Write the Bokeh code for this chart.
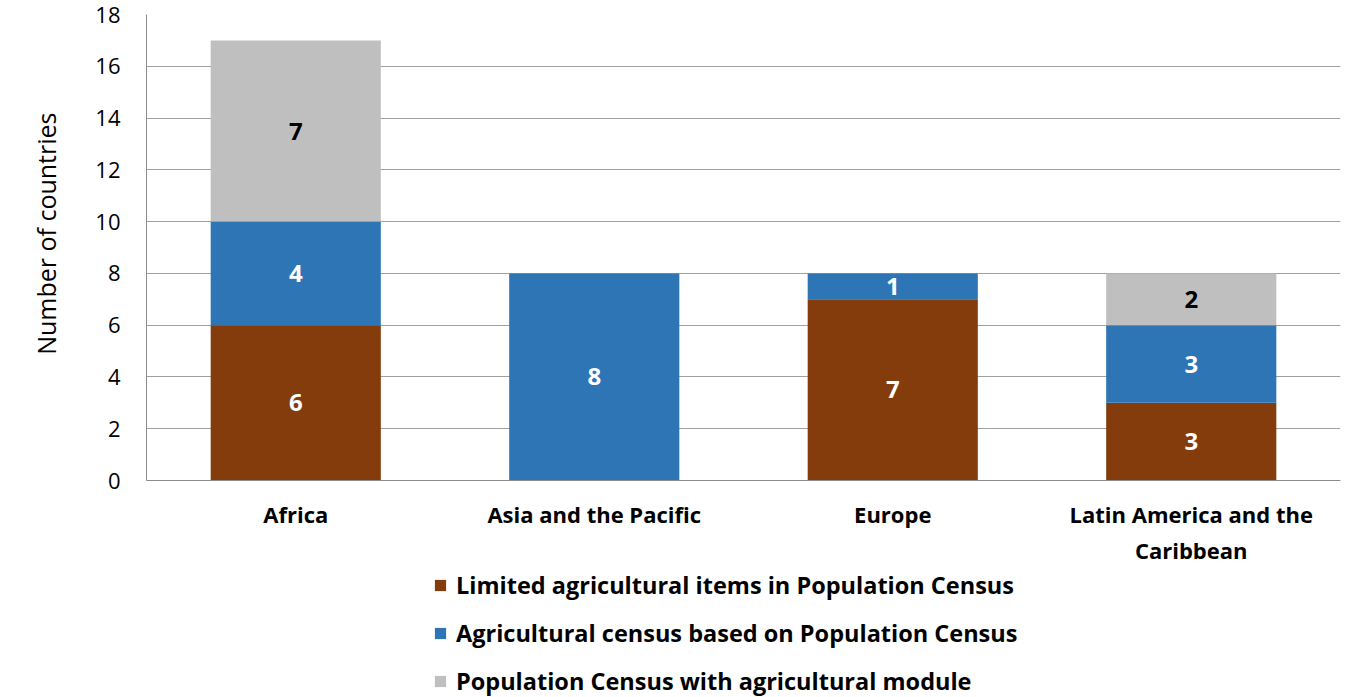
from bokeh.plotting import figure
from bokeh.models import ColumnDataSource, FactorRange, Range1d, Legend, LegendItem, FixedTicker, Title
from bokeh.core.properties import value
from bokeh.embed import file_html
from bokeh.resources import INLINE

regions = ["Africa", "Asia and the Pacific", "Europe", "Latin America and the\nCaribbean"]
limited = [6, 0, 7, 3]
agricultural = [4, 8, 1, 3]
module = [7, 0, 0, 2]
series_names = [
    "Limited agricultural items in Population Census",
    "Agricultural census based on Population Census",
    "Population Census with agricultural module",
]
series_keys = ["limited", "agricultural", "module"]
colors = ["#843C0C", "#2E75B6", "#BFBFBF"]
label_colors = ["white", "white", "black"]
y_ticks = [0, 2, 4, 6, 8, 10, 12, 14, 16, 18]
y_max = 18
y_title = "Number of countries"

FONT = "Open Sans"

# frame extends below the value axis to make room for the legend
PX_PER_UNIT = 466 / y_max
FRAME_H = 697 - 14
y_start = y_max - FRAME_H / PX_PER_UNIT

src = ColumnDataSource(dict(regions=regions, limited=limited, agricultural=agricultural, module=module))

p = figure(
    x_range=FactorRange(*regions, range_padding=0),
    y_range=Range1d(y_start, y_max),
    width=1342, height=697,
    output_backend="svg", toolbar_location=None,
    min_border_left=145, min_border_top=14, min_border_right=2, min_border_bottom=0,
)

renderers = p.vbar_stack(series_keys, x="regions", width=0.57, color=colors, line_color=None, source=src)

# data labels
lx, ly, lt, lc = [], [], [], []
vals = [limited, agricultural, module]
for i, r in enumerate(regions):
    base = 0
    for s, v in enumerate(vals):
        if v[i] > 0:
            lx.append(r)
            ly.append(base + v[i] / 2)
            lt.append(str(v[i]))
            lc.append(label_colors[s])
        base += v[i]
lsrc = ColumnDataSource(dict(x=lx, y=ly, t=lt, c=lc))
p.text(x="x", y="y", text="t", text_color="c", source=lsrc, text_align="center", text_baseline="middle",
       text_font=value(FONT), text_font_style="bold", text_font_size="24px")

p.outline_line_color = None
p.xgrid.grid_line_color = None
p.ygrid.grid_line_color = "#A0A0A0"
p.ygrid.grid_line_width = 1

p.yaxis.ticker = FixedTicker(ticks=y_ticks)
p.yaxis.bounds = (0, y_max)
p.yaxis.axis_line_color = "#8C8C8C"
p.yaxis.major_tick_line_color = None
p.yaxis.minor_tick_line_color = None
p.yaxis.major_label_text_font = FONT
p.yaxis.major_label_text_font_size = "22px"
p.yaxis.major_label_text_color = "#000000"
p.yaxis.major_label_standoff = 20

# y-axis title placed in the left panel, aligned with the value range
p.add_layout(Title(text=y_title, align="right", offset=98, vertical_align="top", standoff=56,
                   text_font=FONT, text_font_size="25px", text_font_style="normal",
                   text_color="#000000"), "left")

p.xaxis.fixed_location = 0
p.xaxis.axis_line_color = "#8C8C8C"
p.xaxis.major_tick_line_color = None
p.xaxis.minor_tick_line_color = None
p.xaxis.major_label_text_font = FONT
p.xaxis.major_label_text_font_style = "bold"
p.xaxis.major_label_text_font_size = "22px"
p.xaxis.major_label_text_color = "#000000"
p.xaxis.major_label_standoff = 12

items = [LegendItem(label=n, renderers=[r]) for n, r in zip(series_names, renderers)]
legend = Legend(items=items, orientation="vertical", location=(287, 0),
                label_text_font=FONT, label_text_font_style="bold", label_text_font_size="23.5px",
                label_text_color="#000000", glyph_width=14, glyph_height=14, label_standoff=9,
                spacing=16, padding=0, margin=0, border_line_color=None, background_fill_alpha=0)
p.add_layout(legend, "center")

open("out.html", "w").write(file_html(p, INLINE))
